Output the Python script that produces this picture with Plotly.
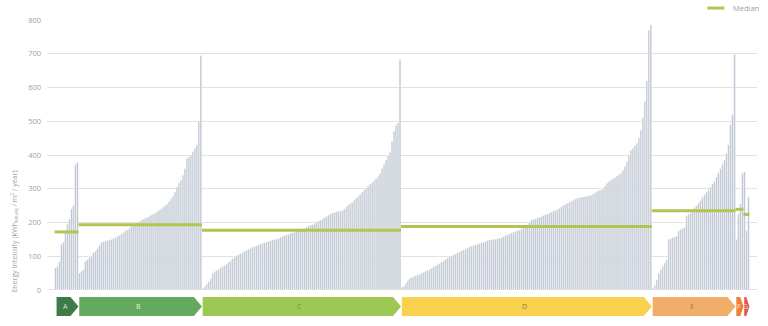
import plotly.graph_objects as go

# ---------------- data ----------------
labels = ["A", "B", "C", "D", "E", "F", "G"]

vals_A = [65, 70, 85, 135, 142, 170, 195, 210, 240, 250, 372, 378]
vals_B = [50, 55, 60, 85, 90, 95, 100, 110, 115, 122, 132, 140, 143, 145, 147, 148,
          150, 152, 155, 158, 162, 165, 170, 175, 178, 182, 188, 192, 196, 200, 203,
          206, 210, 213, 215, 218, 222, 225, 228, 232, 236, 240, 245, 250, 255, 262,
          270, 278, 290, 305, 318, 325, 340, 360, 390, 395, 400, 410, 420, 430, 500, 695]
vals_C = [5, 10, 18, 25, 35, 50, 55, 58, 62, 66, 70, 73, 77, 82, 87, 93, 98, 102, 105,
          108, 111, 115, 118, 121, 124, 127, 129, 131, 134, 136, 138, 140, 142, 144, 146,
          148, 150, 151, 153, 156, 158, 161, 163, 165, 168, 170, 172, 174, 175, 177, 180,
          182, 186, 190, 192, 194, 196, 200, 204, 207, 210, 214, 218, 222, 226, 228, 230,
          232, 233, 234, 236, 240, 246, 252, 256, 260, 266, 272, 278, 284, 290, 296, 302,
          308, 314, 318, 324, 330, 336, 345, 360, 372, 385, 398, 408, 440, 470, 488, 495, 682]
vals_D = [8, 12, 20, 28, 35, 38, 40, 43, 45, 47, 50, 53, 56, 58, 61, 65, 69, 72, 76, 79,
          83, 87, 91, 95, 98, 101, 104, 107, 110, 113, 116, 119, 122, 125, 128, 130, 132,
          134, 136, 138, 140, 142, 144, 146, 148, 149, 150, 151, 152, 153, 155, 158, 161,
          164, 166, 169, 171, 174, 176, 178, 181, 184, 187, 190, 200, 207, 209, 211, 213,
          215, 218, 221, 223, 225, 228, 231, 234, 236, 238, 242, 246, 250, 254, 257, 260,
          263, 266, 269, 272, 274, 275, 276, 277, 278, 279, 281, 284, 288, 292, 295, 296,
          300, 308, 316, 322, 326, 330, 334, 338, 342, 346, 355, 365, 380, 400, 415, 420,
          428, 435, 450, 474, 510, 560, 620, 770, 785]
vals_E = [5, 15, 30, 50, 60, 70, 80, 90, 150, 152, 155, 157, 160, 175, 180, 183, 185,
          220, 225, 228, 235, 245, 250, 258, 265, 275, 282, 290, 296, 305, 315, 322, 335,
          348, 360, 372, 385, 405, 430, 490, 520, 698]
vals_F = [150, 225, 255, 345]
vals_G = [350, 175, 275]

medians = [172, 193, 177, 188, 235, 239, 224]

y_ticks = [0, 100, 200, 300, 400, 500, 600, 700, 800]

# ---------------- styles ----------------
bar_color = "#bcc4d0"
median_color = "#b3c450"
arrow_colors = ["#3f7a49", "#63a95e", "#9ec854", "#f8d24f", "#f0ae69", "#ef8239", "#e0564b"]
arrow_text_colors = ["#d8e8d8", "#e4f2e2", "#6d8c3e", "#8c7a3c", "#9a7c5c", "#fbe5d5", "#f6d6d3"]
font_fam = "Open Sans, Lato, sans-serif"

groups = [vals_A, vals_B, vals_C, vals_D, vals_E, vals_F, vals_G]
all_vals = [v for g in groups for v in g]
N = len(all_vals)

fig = go.Figure()
fig.add_trace(go.Bar(x=list(range(N)), y=all_vals,
                     marker=dict(color=bar_color, line=dict(width=0.45, color="white")),
                     showlegend=False, hoverinfo="y"))

# medians & arrows
shapes = []
annotations = []
start = 0
y_top, y_bot = -20.7, -77.0
y_mid = (y_top + y_bot) / 2
for i, g in enumerate(groups):
    x0 = start - 0.5
    x1 = start + len(g) - 0.5
    fig.add_trace(go.Scatter(x=[x0, x1], y=[medians[i], medians[i]], mode="lines",
                             line=dict(color=median_color, width=3), showlegend=False,
                             hoverinfo="skip"))
    tip = 4.0 if len(g) > 8 else 1.6
    ax0 = x0 + (1.0 if i == 0 else 0.4)
    path = (f"M {ax0},{y_top} L {x1 - tip},{y_top} L {x1},{y_mid} "
            f"L {x1 - tip},{y_bot} L {ax0},{y_bot} Z")
    shapes.append(dict(type="path", path=path, xref="x", yref="y",
                       fillcolor=arrow_colors[i], line=dict(width=0), layer="above"))
    annotations.append(dict(x=(ax0 + x1 - tip * 0.6) / 2, y=y_mid, xref="x", yref="y",
                            text=labels[i], showarrow=False,
                            font=dict(size=7, color=arrow_text_colors[i], family=font_fam)))
    start += len(g)

# legend (manual)
shapes.append(dict(type="line", xref="paper", yref="paper", x0=0.930, x1=0.954,
                   y0=1.039, y1=1.039, line=dict(color=median_color, width=3)))
annotations.append(dict(x=0.964, y=1.039, xref="paper", yref="paper", xanchor="left",
                        yanchor="middle", text="Median", showarrow=False,
                        font=dict(size=7.5, color="#a0a0a0", family=font_fam)))

# y-axis title
annotations.append(dict(x=-0.047, y=172, xref="paper", yref="y", textangle=-90,
                        text="Energy Intensity (kWh<sub>ele,eq</sub> / m<sup>2</sup> / year)",
                        showarrow=False, xanchor="center", yanchor="middle",
                        font=dict(size=7, color="#a0a0a0", family=font_fam)))

fig.update_layout(
    width=768, height=326,
    margin=dict(l=47, r=11, t=20, b=0),
    paper_bgcolor="white", plot_bgcolor="white",
    bargap=0.1,
    shapes=shapes, annotations=annotations,
    showlegend=False,
    xaxis=dict(range=[-4.3, N + 3.3], showgrid=False, zeroline=False, showticklabels=False,
               showline=False, ticks=""),
    yaxis=dict(range=[-106.7, 800], tickvals=y_ticks, ticktext=[str(t) for t in y_ticks],
               showgrid=True, gridcolor="#e2e2e2", gridwidth=1, zeroline=False,
               showline=False, ticks="", ticklabelstandoff=5,
               tickfont=dict(size=7.5, color="#a0a0a0", family=font_fam)),
)

fig.write_html("out.html")
